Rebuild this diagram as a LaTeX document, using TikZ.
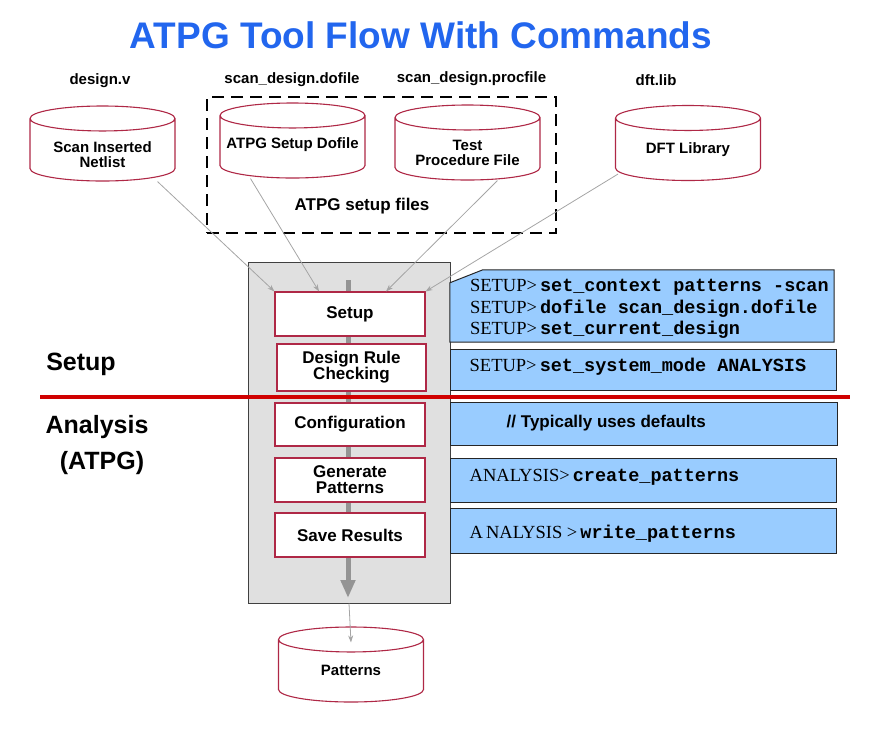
\documentclass[tikz,border=0pt]{standalone}
\usepackage{fontspec}
\setmainfont{Liberation Sans}
\setmonofont{Liberation Mono}
\newfontfamily\promptfont{Liberation Serif}
\usepackage{xcolor}
\usepackage{tikz}
\usetikzlibrary{
  arrows.meta,
  positioning,
  shapes.geometric,
  calc
}
\definecolor{titleblue}{RGB}{34,102,238}
\definecolor{dbred}{RGB}{175,40,70}
\definecolor{panelgray}{RGB}{224,224,224}
\definecolor{cmdblue}{RGB}{153,204,255}
\definecolor{splitred}{RGB}{208,0,0}
\definecolor{linkgray}{RGB}{165,165,165}
\newcommand{\prompt}[1]{{\promptfont #1>}\,}
\newcommand{\cmd}[1]{\texttt{\bfseries #1}}

\begin{document}
\begin{tikzpicture}[x=1pt,y=-1pt,
  db/.style     ={cylinder,shape border rotate=90,aspect=0.234,text width=100pt,
                  draw=dbred,line width=1.1pt,fill=white,minimum width=145pt,
                  minimum height=75pt,anchor=shape center},
  dbtext/.style ={font=\fontsize{15}{15}\selectfont\bfseries,align=center,inner sep=1pt},
  stepbox/.style={draw=dbred,line width=1.1pt,fill=white,minimum width=150pt,
                  minimum height=44pt,font=\fontsize{17}{16}\selectfont\bfseries,
                  align=center,inner sep=2pt},
  cmdbox/.style ={draw=black!85,line width=1pt,fill=cmdblue},
  cmdtext/.style={font=\fontsize{18.5}{21.5}\selectfont,align=left,inner sep=0pt},
  fname/.style  ={font=\fontsize{15}{15}\selectfont\bfseries},
  conn/.style   ={draw=linkgray,line width=0.8pt,-{Stealth[length=7pt,width=5pt]}},
  flow/.style   ={draw=black!42,line width=5pt,-{Triangle[length=18pt,width=14pt]}},
]
\useasboundingbox (0,0) rectangle (876,732);

\node[font=\fontsize{37}{37}\selectfont\bfseries,text=titleblue] (title) at (421,35)
  {ATPG Tool Flow With Commands};

% input files
\node[fname] (vname)    at (100,81)   {design.v};
\node[fname] (doname)   at (292,80)   {scan\_design.dofile};
\node[fname] (procname) at (471.5,79) {scan\_design.procfile};
\node[fname] (libname)  at (656,80)   {dft.lib};

\node[draw,line width=2.5pt,dash pattern=on 12pt off 7pt,minimum width=349pt,
      minimum height=136pt] (grp) at (381.5,165) {};
\node[font=\fontsize{17}{17}\selectfont\bfseries] (grplabel) at (362,206) {ATPG setup files};

\node[db] (net)    at (102.5,143.5) {};
\node[db] (dofile) at (292.5,140.5) {};
\node[db] (proc)   at (467.5,142.5) {};
\node[db] (dft)    at (688,143)     {};
\node[dbtext] (netT)  at ([yshift=-11.5pt]net.shape center)  {Scan Inserted\\Netlist};
\node[dbtext] (doT)   at ([yshift=-4.5pt]dofile.shape center) {ATPG Setup Dofile};
\node[dbtext] (procT) at ([yshift=-10.5pt]proc.shape center) {Test\\Procedure File};
\node[dbtext] (dftT)  at ([yshift=-7pt]dft.shape center)     {DFT Library};

% tool panel
\node[draw=black!75,line width=1pt,fill=panelgray,minimum width=202pt,
      minimum height=341pt] (panel) at (349,432.5) {};
\coordinate (flowtop) at (348,280);
\coordinate (flowend) at (348,598);
\draw[flow] (flowtop) -- (flowend);

\node[stepbox] (setup) at (350,314) {Setup};
\node[stepbox,minimum width=149pt,minimum height=47pt] (drc) at (351.5,367.5)
  {Design Rule\\Checking};
\node[stepbox,minimum height=43pt] (config) at (350,424.5) {Configuration};
\node[stepbox] (gen)  at (350,480) {Generate\\Patterns};
\node[stepbox] (save) at (350,535) {Save Results};

\node[db] (pat) at (351,664.5) {};
\node[dbtext] (patT) at ([yshift=-5.5pt]pat.shape center) {Patterns};

\draw[conn] ([xshift=55pt]net.south) -- (setup.north west);
\draw[conn] ([xshift=-42pt]dofile.south) -- ([xshift=-31pt]setup.north);
\draw[conn] ([xshift=30pt]proc.south) -- ([xshift=36pt]setup.north);
\draw[conn] ([xshift=-70pt,yshift=7pt]dft.south) -- (setup.north east);
\draw[conn] (panel.south) -- ([yshift=-16pt]pat.north);

% commands
\node[minimum width=384pt,minimum height=72pt] (c1) at (642,306) {};
\draw[cmdbox] ([yshift=-13pt]c1.north west) -- ([xshift=33pt]c1.north west)
  -- (c1.north east) -- (c1.south east) -- (c1.south west) -- cycle;
\node[cmdtext,right=20pt of c1.west,yshift=-3pt] (c1t)
  {\prompt{SETUP}\cmd{set\_context patterns -scan}\\
   \prompt{SETUP}\cmd{dofile scan\_design.dofile}\\
   \prompt{SETUP}\cmd{set\_current\_design}};

\node[cmdbox,minimum width=386pt,minimum height=41pt] (c2) at (643,369.5) {};
\node[cmdtext,right=20pt of c2.west,yshift=3pt] (c2t)
  {\prompt{SETUP}\cmd{set\_system\_mode ANALYSIS}};

\node[cmdbox,minimum width=387pt,minimum height=43pt] (c3) at (643.5,423.5) {};
\node[font=\fontsize{17}{17}\selectfont\bfseries,inner sep=0pt,right=57pt of c3.west] (c3t)
  {// Typically uses defaults};

\node[cmdbox,minimum width=386pt,minimum height=44pt] (c4) at (643,480) {};
\node[cmdtext,right=20pt of c4.west,yshift=3pt] (c4t)
  {\prompt{ANALYSIS}\cmd{create\_patterns}};

\node[cmdbox,minimum width=386pt,minimum height=45pt] (c5) at (643,530.5) {};
\node[cmdtext,right=20pt of c5.west,yshift=-3pt] (c5t)
  {{\promptfont A\hspace{3pt}NALYSIS >}\,\cmd{write\_patterns}};

% setup / analysis split
\draw[splitred,line width=4pt] (40,397) -- (850,397);
\node[font=\fontsize{25}{36}\selectfont\bfseries] (lsetup) at (81,364) {Setup};
\node[font=\fontsize{25}{36}\selectfont\bfseries,align=center] (lanalysis) at (97,445)
  {Analysis\\\hspace*{10pt}(ATPG)};
\end{tikzpicture}
\end{document}
